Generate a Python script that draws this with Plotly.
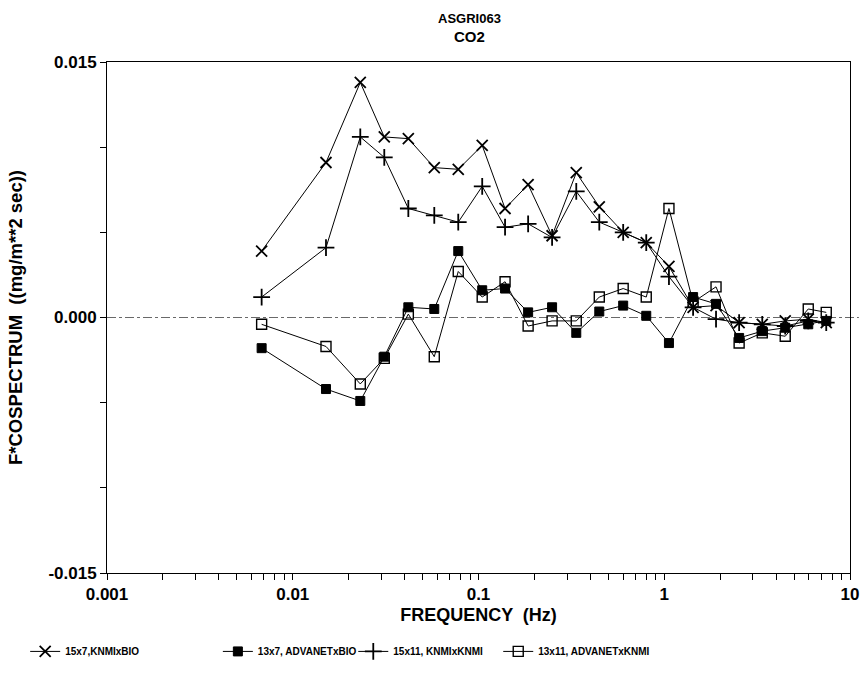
import plotly.graph_objects as go

# Frequency bins (Hz)
freq = [0.0068, 0.0151, 0.0231, 0.0311, 0.0419, 0.0578, 0.0778, 0.1047, 0.139,
        0.185, 0.249, 0.336, 0.447, 0.601, 0.80, 1.06, 1.43, 1.90, 2.53, 3.37,
        4.48, 5.96, 7.45]

# Frequency-weighted CO2 cospectra per sensor combination
knmi_bio_15x7 = [0.0039, 0.0091, 0.0138, 0.0106, 0.0105, 0.0088, 0.0087, 0.0101,
                 0.0064, 0.0078, 0.0048, 0.0085, 0.0065, 0.0050, 0.0044, 0.0030,
                 0.0006, 0.0007, -0.0003, -0.0004, -0.0002, -0.0001, -0.0003]
advanet_bio_13x7 = [-0.0018, -0.0042, -0.0049, -0.0023, 0.0006, 0.0005, 0.0039,
                    0.0016, 0.0017, 0.0003, 0.0006, -0.0009, 0.00035, 0.0007,
                    0.0001, -0.0015, 0.0012, 0.0008, -0.0012, -0.0008, -0.0006,
                    -0.0004, -0.0002]
knmi_knmi_15x11 = [0.0012, 0.0041, 0.0106, 0.0094, 0.0064, 0.0060, 0.0056, 0.0077,
                   0.0053, 0.0055, 0.0047, 0.0074, 0.0056, 0.0050, 0.0044, 0.0024,
                   0.0006, -0.0001, -0.0003, -0.0004, -0.0005, -0.0002, -0.0003]
advanet_knmi_13x11 = [-0.0004, -0.0017, -0.0039, -0.0024, 0.0002, -0.0023, 0.0027,
                      0.0012, 0.0021, -0.0005, -0.0002, -0.0002, 0.0012, 0.0017,
                      0.0012, 0.0064, 0.0009, 0.0018, -0.0015, -0.0009, -0.0011,
                      0.0005, 0.0003]

series_names = ["15x7,KNMIxBIO", "13x7, ADVANETxBIO", "15x11, KNMIxKNMI",
                "13x11, ADVANETxKNMI"]

# Axis ticks
x_decades = [0.001, 0.01, 0.1, 1, 10]
x_decade_labels = ["0.001", "0.01", "0.1", "1", "10"]
y_tickvals = [-0.015, -0.010, -0.005, 0.0, 0.005, 0.010, 0.015]
y_ticklabels = ["-0.015", "", "", "0.000", "", "", "0.015"]

FONT = "Liberation Sans, Arial, sans-serif"

styles = [
    dict(symbol="x-thin-open", size=11, line=dict(width=1.8, color="black")),
    dict(symbol="square", size=9, color="black", line=dict(width=1, color="black")),
    dict(symbol="cross-thin-open", size=12, line=dict(width=1.8, color="black")),
    dict(symbol="square-open", size=10, line=dict(width=1.4, color="black")),
]
data = [knmi_bio_15x7, advanet_bio_13x7, knmi_knmi_15x11, advanet_knmi_13x11]
legend_ids = ["legend", "legend2", "legend3", "legend4"]
legend_x = [0.029, 0.251, 0.407, 0.574]

fig = go.Figure()
for name, vals, st, lid in zip(series_names, data, styles, legend_ids):
    mk = dict(st)
    mk.setdefault("color", "black")
    fig.add_trace(go.Scatter(
        x=freq, y=vals, name=f"<b>{name}</b>", mode="lines+markers",
        line=dict(color="black", width=1), marker=mk, legend=lid,
    ))

# Tick positions on the log axis (decades labelled, 2..9 unlabelled)
x_ticks, x_text = [], []
for d, lab in zip(x_decades, x_decade_labels):
    for m in range(1, 10):
        v = d * m
        if v > 10 + 1e-9:
            break
        x_ticks.append(v)
        x_text.append(f"<b>{lab}</b>" if m == 1 else "")

legend_common = dict(orientation="h", xref="container", yref="container",
                     y=0.06, xanchor="left", yanchor="middle",
                     font=dict(size=10, family=FONT), itemwidth=30,
                     bgcolor="rgba(0,0,0,0)")

layout_legends = {}
for lid, lx in zip(legend_ids, legend_x):
    layout_legends[lid] = dict(legend_common, x=lx)

fig.update_layout(
    width=868, height=693,
    paper_bgcolor="white", plot_bgcolor="white",
    margin=dict(l=107, r=18, t=62, b=120, autoexpand=False),
    font=dict(family=FONT, color="black", size=14),
    showlegend=True,
    **layout_legends,
)

# Two-line heading
fig.add_annotation(text="<b>ASGRI063</b>", xref="paper", yref="paper",
                   x=0.488, y=1.0, yshift=53, showarrow=False,
                   font=dict(size=13, family=FONT))
fig.add_annotation(text="<b>CO2</b>", xref="paper", yref="paper",
                   x=0.488, y=1.0, yshift=36, showarrow=False,
                   font=dict(size=15, family=FONT))

fig.update_xaxes(
    type="log", range=[-3, 1], automargin=False,
    tickvals=x_ticks, ticktext=x_text,
    ticks="outside", ticklen=6, tickcolor="black",
    tickfont=dict(size=17, family=FONT),
    showgrid=False, zeroline=False,
    showline=True, linecolor="black", linewidth=1, mirror=True,
    title=dict(text="<b>FREQUENCY  (Hz)</b>", font=dict(size=18, family=FONT),
               standoff=4),
)
fig.update_yaxes(
    range=[-0.015, 0.015], automargin=False,
    tickvals=y_tickvals,
    ticktext=[f"<b>{t}</b>" if t else "" for t in y_ticklabels],
    ticks="outside", ticklen=6, tickcolor="black",
    tickfont=dict(size=17, family=FONT),
    showgrid=False, zeroline=False,
    showline=True, linecolor="black", linewidth=1, mirror=True,
    title=dict(text="<b>F*COSPECTRUM  ((mg/m**2 sec))</b>",
               font=dict(size=18.5, family=FONT), standoff=20),
)

# Dash-dot reference line at zero
fig.add_shape(type="line", xref="x domain", yref="y", x0=0, x1=1.012, y0=0, y1=0,
              line=dict(color="dimgray", width=1, dash="dashdot"), layer="below")

fig.write_html("out.html")
